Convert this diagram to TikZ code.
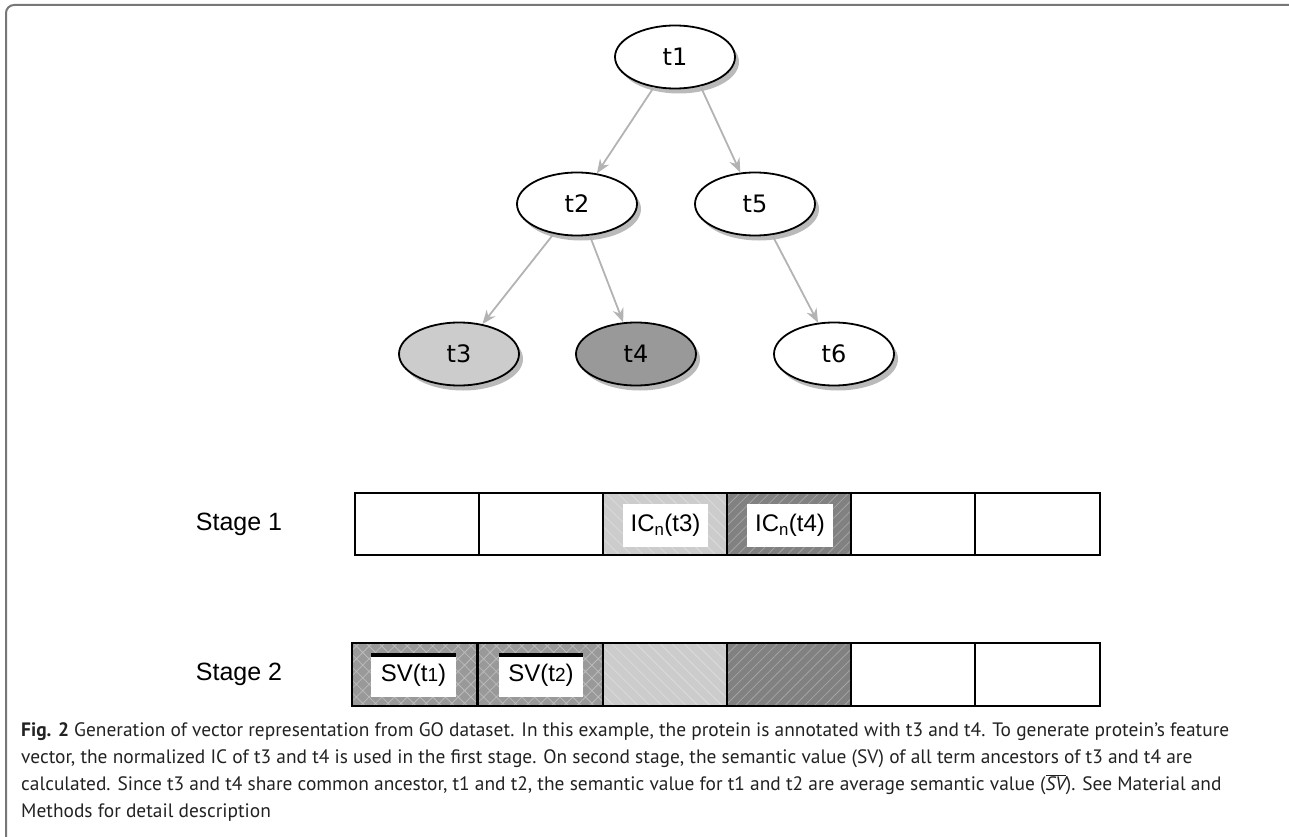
\documentclass[tikz,border=0pt]{standalone}
\usepackage{fontspec}
\setmainfont{PT Sans}
\newfontfamily\arialf{Liberation Sans}
\newfontfamily\dejavuf{DejaVu Sans}
\usetikzlibrary{arrows.meta,shapes.geometric,shadows,patterns.meta}
\definecolor{framec}{HTML}{777777}
\definecolor{edgec}{HTML}{B3B3B3}
\definecolor{lightc}{HTML}{CCCCCC}
\definecolor{lightl}{HTML}{DCDCDC}
\definecolor{darkc}{HTML}{818181}
\definecolor{darkl}{HTML}{A4A4A4}
\definecolor{svc}{HTML}{999999}
\definecolor{svl}{HTML}{BBBBBB}
\definecolor{t3c}{HTML}{CCCCCC}
\definecolor{t4c}{HTML}{999999}
\definecolor{capc}{HTML}{222222}
\newlength\capw
\begin{document}
\settowidth\capw{\fontsize{20}{27}\selectfont\textbf{Fig. 2} Generation of vector representation from GO dataset. In this example, the protein is annotated with t3 and t4. To generate protein’s feature}%
\pgfmathsetmacro\capsz{1208/\capw*20}%
\begin{tikzpicture}[x=1pt,y=-1pt,
  term/.style={ellipse, draw=black, line width=1.8pt, fill=white, minimum width=120pt, minimum height=63pt, inner sep=0pt,
    font=\dejavuf\fontsize{24}{28}\selectfont,
    drop shadow={shadow xshift=4pt, shadow yshift=-5pt, opacity=1, fill=black!27, draw=none}},
  edge/.style={draw=edgec, line width=1.8pt, -{Stealth[length=14pt,width=11pt,inset=4.5pt]}},
  cell/.style={rectangle, draw=black, line width=2pt, minimum width=124pt, minimum height=62pt, inner sep=0pt},
  lightcell/.style={cell, preaction={fill=lightc}, preaction={pattern={Lines[angle=-45,distance=8.5pt,line width=0.8pt]}, pattern color=lightl}},
  darkcell/.style={cell, preaction={fill=darkc}, preaction={pattern={Lines[angle=45,distance=7pt,line width=0.8pt]}, pattern color=darkl}},
  svcell/.style={cell, preaction={fill=svc}, preaction={pattern={Hatch[angle=45,distance=9pt,line width=0.8pt]}, pattern color=svl}},
  labelbox/.style={rectangle, fill=white, inner sep=0pt, minimum height=43pt, font=\arialf\fontsize{24}{28}\selectfont},
  stagelabel/.style={font=\arialf\fontsize{25}{30}\selectfont, inner sep=0pt},
  capline/.style={anchor=base west, inner sep=0pt, text=capc, font=\fontsize{\capsz}{27}\selectfont}
]
\path[use as bounding box] (0,0) rectangle (1289,837);
\draw[framec, line width=2pt, rounded corners=8pt] (1289,5) -- (6,5) -- (6,837);

% tree
\node[term] (t1) at (675,57) {t1};
\node[term] (t2) at (577,204) {t2};
\node[term] (t5) at (755,204) {t5};
\node[term, fill=t3c] (t3) at (459,354) {t3};
\node[term, fill=t4c] (t4) at (636,354) {t4};
\node[term] (t6) at (834,354) {t6};
\draw[edge] (t1.235) -- (t2.57);
\draw[edge] (t1.311) -- (t5.115);
\draw[edge] (t2.232) -- (t3.52);
\draw[edge] (t2.292) -- (t4.112);
\draw[edge] (t5.299) -- (t6.117);

% stage 1
\node[stagelabel] (s1) at (239,524) {Stage 1};
\node[cell] (a1) at (417,524) {};
\node[cell] (a2) at (541,524) {};
\node[lightcell] (a3) at (665,524) {};
\node[darkcell] (a4) at (789,524) {};
\node[cell] (a5) at (913,524) {};
\node[cell, minimum width=125pt] (a6) at (1037.5,524) {};
\node[labelbox, minimum width=85pt] (ic3) at (665.5,525.5) {IC\textsubscript{n}(t3)};
\node[labelbox, minimum width=86pt] (ic4) at (790,525.5) {IC\textsubscript{n}(t4)};

% stage 2
\node[stagelabel] (s2) at (239,674) {Stage 2};
\node[svcell, minimum width=125pt, minimum height=63pt] (b1) at (414.5,674.5) {};
\node[svcell, minimum width=125pt, minimum height=63pt] (b2) at (540.5,674.5) {};
\node[lightcell, minimum height=63pt] (b3) at (665,674.5) {};
\node[darkcell, minimum height=63pt] (b4) at (789,674.5) {};
\node[cell, minimum height=63pt] (b5) at (913,674.5) {};
\node[cell, minimum width=125pt, minimum height=63pt] (b6) at (1037.5,674.5) {};
\node[labelbox, minimum width=85pt] (sv1) at (413.5,675) {SV(t{\fontsize{19}{20}\selectfont 1})};
\node[labelbox, minimum width=84pt] (sv2) at (541,675) {SV(t{\fontsize{19}{20}\selectfont 2})};
\draw[line width=3.5pt] ([yshift=-1.75pt]sv1.north west) -- ([yshift=-1.75pt]sv1.north east);
\draw[line width=3.5pt] ([yshift=-1.75pt]sv2.north west) -- ([yshift=-1.75pt]sv2.north east);

% caption
\node[capline] (c1) at (21,736) {\textbf{Fig. 2} Generation of vector representation from GO dataset. In this example, the protein is annotated with t3 and t4. To generate protein’s feature};
\node[capline] (c2) at (21,763) {vector, the normalized IC of t3 and t4 is used in the first stage. On second stage, the semantic value (SV) of all term ancestors of t3 and t4 are};
\node[capline] (c3) at (21,790) {calculated. Since t3 and t4 share common ancestor, t1 and t2, the semantic value for t1 and t2 are average semantic value (\(\overline{\mbox{\itshape SV}}\)). See Material and};
\node[capline] (c4) at (21,817) {Methods for detail description};
\end{tikzpicture}
\end{document}
